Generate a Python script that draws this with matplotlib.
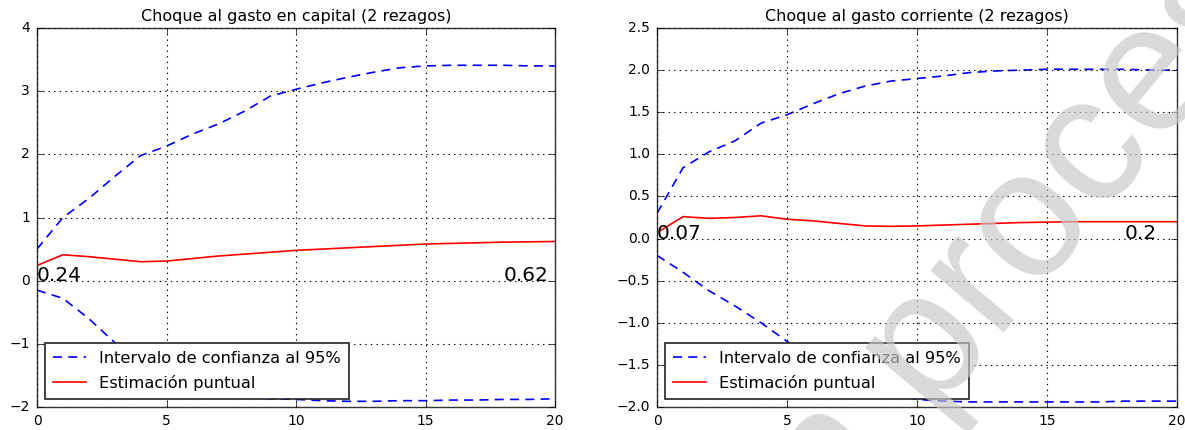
import matplotlib
matplotlib.use("Agg")
import matplotlib.pyplot as plt
from matplotlib.ticker import FuncFormatter

plt.style.use("classic")

# ---------------- data ----------------
horizon = list(range(21))

cap_upper = [0.50, 1.00, 1.30, 1.65, 1.98, 2.13, 2.32, 2.48, 2.68, 2.92, 3.03, 3.13, 3.22, 3.30, 3.37, 3.40, 3.41, 3.41, 3.41, 3.40, 3.40]
cap_point = [0.24, 0.41, 0.38, 0.34, 0.30, 0.31, 0.35, 0.39, 0.42, 0.45, 0.48, 0.50, 0.52, 0.54, 0.56, 0.58, 0.59, 0.60, 0.61, 0.615, 0.62]
cap_lower = [-0.15, -0.28, -0.60, -0.98, -1.30, -1.52, -1.68, -1.78, -1.84, -1.87, -1.88, -1.90, -1.91, -1.91, -1.90, -1.90, -1.89, -1.89, -1.88, -1.88, -1.87]

cor_upper = [0.30, 0.84, 1.03, 1.16, 1.37, 1.47, 1.60, 1.72, 1.81, 1.87, 1.90, 1.93, 1.97, 1.99, 2.00, 2.01, 2.01, 2.01, 2.01, 2.00, 2.00]
cor_point = [0.07, 0.26, 0.24, 0.25, 0.27, 0.23, 0.21, 0.18, 0.15, 0.145, 0.15, 0.16, 0.17, 0.18, 0.19, 0.195, 0.20, 0.20, 0.20, 0.20, 0.20]
cor_lower = [-0.20, -0.40, -0.62, -0.80, -1.00, -1.22, -1.45, -1.62, -1.75, -1.85, -1.91, -1.93, -1.94, -1.94, -1.94, -1.94, -1.94, -1.94, -1.93, -1.93, -1.93]

titles = ["Choque al gasto en capital (2 rezagos)", "Choque al gasto corriente (2 rezagos)"]
label_ci = "Intervalo de confianza al 95%"
label_pt = "Estimación puntual"
cap_yticks = [-2, -1, 0, 1, 2, 3, 4]
cor_yticks = [-2.0, -1.5, -1.0, -0.5, 0.0, 0.5, 1.0, 1.5, 2.0, 2.5]
xticks = [0, 5, 10, 15, 20]
cap_ann = ["0.24", "0.62"]
cor_ann = ["0.07", "0.2"]
watermark = "en proceso"


def make_fmt(fmt):
    return FuncFormatter(lambda v, p: (fmt % v).replace("-", "\u2212"))


# ---------------- figure ----------------
fig = plt.figure(figsize=(11.85, 4.30), dpi=100, facecolor="white")
W, H = 1185.0, 430.0
ax1 = fig.add_axes([37 / W, 23 / H, 518 / W, 379 / H])
ax2 = fig.add_axes([657 / W, 23 / H, 520 / W, 379 / H])

panels = [
    (ax1, cap_upper, cap_point, cap_lower, cap_yticks, cap_ann, "%d"),
    (ax2, cor_upper, cor_point, cor_lower, cor_yticks, cor_ann, "%.1f"),
]

for i, (ax, up, pt, lo, yt, ann, fmt) in enumerate(panels):
    ax.set_facecolor("white")
    ax.plot(horizon, up, color="b", linestyle="--", dashes=(6.5, 4.5), lw=1.2,
            label=label_ci)
    ax.plot(horizon, pt, color="r", linestyle="-", lw=1.2, label=label_pt)
    ax.plot(horizon, lo, color="b", linestyle="--", dashes=(6.5, 4.5), lw=1.2)
    ax.set_xlim(0, 20)
    ax.set_ylim(yt[0], yt[-1])
    ax.set_xticks(xticks)
    ax.set_yticks(yt)
    ax.yaxis.set_major_formatter(make_fmt(fmt))
    ax.xaxis.set_major_formatter(make_fmt("%d"))
    ax.grid(True, linestyle=":", color="k", lw=0.8)
    ax.tick_params(labelsize=10, direction="in", top=True, right=True,
                   length=4, pad=5)
    for s in ax.spines.values():
        s.set_linewidth(1.0)
        s.set_color("#333333")
    ax.set_title(titles[i], fontsize=11.5, pad=5)
    ax.text(0, 0, ann[0], fontsize=14.5, ha="left", va="baseline")
    ax.text(18, 0, ann[1], fontsize=14.5, ha="left", va="baseline")
    leg = ax.legend(loc="lower left", fontsize=11.7, handlelength=2.0,
                    handletextpad=0.8, borderpad=0.5, borderaxespad=0.5,
                    labelspacing=0.55, fancybox=False, numpoints=1)
    leg.get_frame().set_edgecolor("#222222")
    leg.get_frame().set_linewidth(1.2)

# watermark
fig.text(771 / W, 1 - 611 / H, watermark, fontsize=130,
         family="Liberation Sans", weight="normal", color="#c8c8c8", alpha=0.68,
         rotation=50, rotation_mode="anchor", ha="left", va="baseline",
         zorder=100)

fig.savefig("out.png", dpi=100, facecolor="white")
